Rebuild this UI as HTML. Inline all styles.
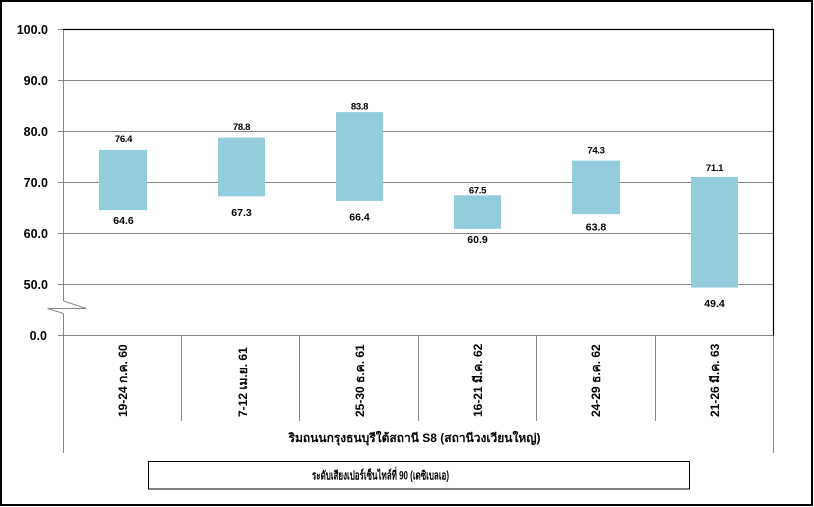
<!DOCTYPE html>
<html>
<head>
<meta charset="utf-8">
<style>
  html, body { margin:0; padding:0; background:#fff; }
  svg { display:block; }
  text { font-family: "Liberation Sans", "DejaVu Sans", "Noto Sans CJK SC", sans-serif; fill:#000; }
</style>
</head>
<body>
<svg width="814" height="507" viewBox="0 0 814 507" xmlns="http://www.w3.org/2000/svg">
  <rect x="0" y="0" width="814" height="507" fill="#fff"/>
  <!-- outer border -->
  <rect x="1" y="1" width="811" height="504" fill="none" stroke="#000" stroke-width="2"/>

  <!-- gridlines -->
  <g stroke="#868686" stroke-width="1" fill="none">
    <line x1="58" y1="80.5" x2="773" y2="80.5"/>
    <line x1="58" y1="131.5" x2="773" y2="131.5"/>
    <line x1="58" y1="182.5" x2="773" y2="182.5"/>
    <line x1="58" y1="233.5" x2="773" y2="233.5"/>
    <line x1="58" y1="284.5" x2="773" y2="284.5"/>
    <line x1="58" y1="335.5" x2="773" y2="335.5"/>
    <line x1="58" y1="29.5" x2="63" y2="29.5"/>
    <!-- left axis with break -->
    <line x1="63.5" y1="29" x2="63.5" y2="301"/>
    <polyline points="63.5,301 86.5,308.5 47.5,308.5 63.5,313.5"/>
    <line x1="63.5" y1="313.5" x2="63.5" y2="453"/>
    <!-- right continuation below zero -->
    <line x1="773.5" y1="335.5" x2="773.5" y2="453"/>
    <!-- category separators -->
    <line x1="181.5" y1="335.5" x2="181.5" y2="421"/>
    <line x1="299.5" y1="335.5" x2="299.5" y2="421"/>
    <line x1="418.5" y1="335.5" x2="418.5" y2="421"/>
    <line x1="536.5" y1="335.5" x2="536.5" y2="421"/>
    <line x1="655.5" y1="335.5" x2="655.5" y2="421"/>
  </g>
  <!-- plot top & right border (black) -->
  <line x1="63" y1="29.5" x2="774" y2="29.5" stroke="#000" stroke-width="1.2"/>
  <line x1="773.5" y1="29" x2="773.5" y2="335.5" stroke="#000" stroke-width="1.2"/>

  <!-- bars -->
  <g fill="#93CDDD">
    <rect x="99" y="149.9" width="48" height="60.1"/>
    <rect x="218" y="137.6" width="47" height="58.7"/>
    <rect x="336" y="112.1" width="47" height="88.8"/>
    <rect x="454" y="195.3" width="47" height="33.6"/>
    <rect x="572" y="160.6" width="48" height="53.5"/>
    <rect x="691" y="176.9" width="47" height="110.7"/>
  </g>

  <!-- y axis labels -->
  <g font-size="12.5" font-weight="bold" text-anchor="end" dominant-baseline="central">
    <text x="48" y="30">100.0</text>
    <text x="48" y="81">90.0</text>
    <text x="48" y="132">80.0</text>
    <text x="48" y="183">70.0</text>
    <text x="48" y="234">60.0</text>
    <text x="48" y="285">50.0</text>
    <text x="47" y="336">0.0</text>
  </g>

  <!-- top data labels -->
  <g font-size="9.5" font-weight="bold" text-anchor="middle" dominant-baseline="central" letter-spacing="-0.3">
    <text x="123.5" y="139.5">76.4</text>
    <text x="241.5" y="127.5">78.8</text>
    <text x="359.5" y="107">83.8</text>
    <text x="477.5" y="191">67.5</text>
    <text x="596" y="151">74.3</text>
    <text x="714.5" y="168.5">71.1</text>
  </g>
  <!-- bottom data labels -->
  <g font-size="10.5" font-weight="bold" text-anchor="middle" dominant-baseline="central">
    <text x="123.5" y="221">64.6</text>
    <text x="241.5" y="213">67.3</text>
    <text x="359.5" y="217.5">66.4</text>
    <text x="477.5" y="240">60.9</text>
    <text x="596" y="227.5">63.8</text>
    <text x="714.5" y="304">49.4</text>
  </g>

  <!-- category labels (rotated) -->
  <g font-size="12" font-weight="bold" dominant-baseline="central">
    <text x="123" y="417" transform="rotate(-90 123 417)">19-24 ก.ค. 60</text>
    <text x="243" y="417" transform="rotate(-90 243 417)">7-12 เม.ย. 61</text>
    <text x="360" y="417" transform="rotate(-90 360 417)">25-30 ธ.ค. 61</text>
    <text x="478" y="417" transform="rotate(-90 478 417)">16-21 มี.ค. 62</text>
    <text x="596" y="417" transform="rotate(-90 596 417)">24-29 ธ.ค. 62</text>
    <text x="715" y="417" transform="rotate(-90 715 417)">21-26 มี.ค. 63</text>
  </g>

  <!-- axis title -->
  <text x="414.5" y="438" font-size="12" font-weight="bold" text-anchor="middle" dominant-baseline="central">ริมถนนกรุงธนบุรีใต้สถานี S8 (สถานีวงเวียนใหญ่)</text>

  <!-- legend box -->
  <rect x="148.5" y="461.5" width="541" height="27.5" fill="none" stroke="#000" stroke-width="1"/>
  <text x="312" y="475.5" font-size="12" font-weight="bold" dominant-baseline="central" textLength="137" lengthAdjust="spacingAndGlyphs">ระดับเสียงเปอร์เซ็นไทล์ที่ 90 (เดซิเบลเอ)</text>
</svg>
</body>
</html>
